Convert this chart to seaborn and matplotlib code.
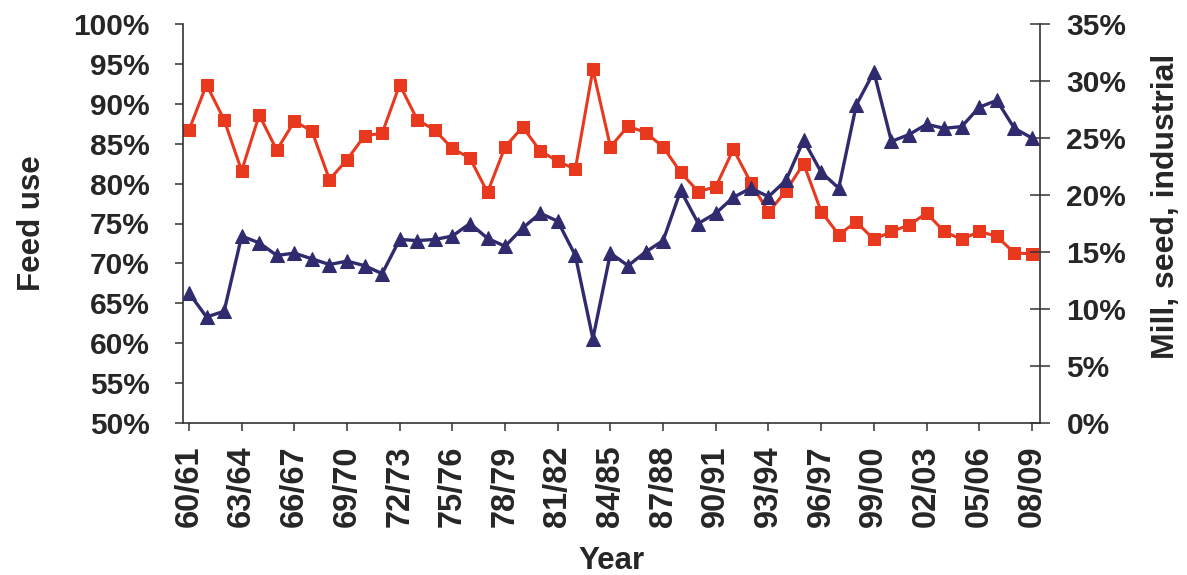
# Sorghum use shares: feed vs mill/seed/industrial
import numpy as np
import pandas as pd
import matplotlib
matplotlib.use("Agg")
import matplotlib.pyplot as plt
import seaborn as sns
from matplotlib.ticker import MultipleLocator, FuncFormatter

# ------------------------------------------
# DATA
# ------------------------------------------

seasons = [
    "60/61", "61/62", "62/63", "63/64", "64/65", "65/66", "66/67", "67/68",
    "68/69", "69/70", "70/71", "71/72", "72/73", "73/74", "74/75", "75/76",
    "76/77", "77/78", "78/79", "79/80", "80/81", "81/82", "82/83", "83/84",
    "84/85", "85/86", "86/87", "87/88", "88/89", "89/90", "90/91", "91/92",
    "92/93", "93/94", "94/95", "95/96", "96/97", "97/98", "98/99", "99/00",
    "00/01", "01/02", "02/03", "03/04", "04/05", "05/06", "06/07", "07/08",
    "08/09",
]

# left axis, %
feed_use = [
    86.7, 92.4, 88.0, 81.6, 88.6, 84.2, 87.8, 86.6, 80.5, 83.0,
    86.0, 86.3, 92.4, 88.0, 86.7, 84.4, 83.2, 78.9, 84.6, 87.1,
    84.1, 82.8, 81.8, 94.3, 84.6, 87.2, 86.4, 84.6, 81.4, 79.0,
    79.6, 84.3, 80.1, 76.4, 79.1, 82.5, 76.5, 73.6, 75.2, 73.0,
    74.0, 74.8, 76.3, 74.0, 73.0, 74.0, 73.4, 71.3, 71.2,
]

# right axis, %
mill_seed_ind = [
    11.4, 9.3, 9.8, 16.4, 15.8, 14.7, 14.9, 14.4, 13.9, 14.2,
    13.8, 13.1, 16.1, 16.0, 16.1, 16.4, 17.5, 16.2, 15.5, 17.1,
    18.4, 17.7, 14.7, 7.4, 14.9, 13.8, 15.0, 16.0, 20.4, 17.5,
    18.4, 19.8, 20.6, 19.85, 21.3, 24.8, 22.0, 20.6, 27.9, 30.8,
    24.7, 25.3, 26.2, 25.85, 26.0, 27.7, 28.3, 25.85, 25.0,
]

df = pd.DataFrame({
    "pos": np.arange(len(seasons)),
    "season": seasons,
    "feed": feed_use,
    "msi": mill_seed_ind,
})

# ------------------------------------------
# PLOT
# ------------------------------------------

sns.set_style("ticks")
plt.rcParams["font.family"] = ["Liberation Sans", "DejaVu Sans"]
plt.rcParams["font.weight"] = "bold"

red = "#E8391F"
navy = "#2F2B6E"
spine_col = "#333333"

W, H = 1187, 575
fig = plt.figure(figsize=(W / 100, H / 100), dpi=100)
ax = fig.add_axes([183 / W, 1 - 423 / H, (1040 - 183) / W, (423 - 24) / H])
ax2 = ax.twinx()

sns.lineplot(data=df, x="pos", y="feed", ax=ax, color=red, linewidth=2.2,
             marker="s", markersize=8.6, markeredgecolor=red)
sns.lineplot(data=df, x="pos", y="msi", ax=ax2, color=navy, linewidth=2.4,
             marker="^", markersize=10.5, markeredgecolor=navy)

ax.set_xlim(-0.34, len(seasons) - 1 + 0.46)
ax.set_ylim(50, 100)
ax2.set_ylim(0, 35)

ax.yaxis.set_major_locator(MultipleLocator(5))
ax2.yaxis.set_major_locator(MultipleLocator(5))
pct = FuncFormatter(lambda v, p: f"{v:.0f}%")
ax.yaxis.set_major_formatter(pct)
ax2.yaxis.set_major_formatter(pct)

tick_pos = df["pos"][::3]
ax.set_xticks(tick_pos)
ax.set_xticklabels(df["season"][::3], rotation=90)

# spines
for a in (ax, ax2):
    a.spines["top"].set_visible(False)
    for s in a.spines.values():
        s.set_color(spine_col)
        s.set_linewidth(1.2)
ax.spines["right"].set_visible(False)
ax2.spines["left"].set_visible(False)
ax2.spines["bottom"].set_visible(False)

ax.tick_params(axis="y", direction="out", length=6, width=1.1, color=spine_col,
               labelsize=21.5, pad=18)
ax.tick_params(axis="x", direction="out", length=6, width=1.1, color=spine_col,
               labelsize=23.5, pad=10)
ax2.tick_params(axis="y", direction="inout", length=14, width=1.1, color=spine_col,
                labelsize=21.5, pad=12)

ax.set_xlabel("Year", fontsize=22.5, fontweight="bold", labelpad=14)
ax.set_ylabel("Feed use", fontsize=22.5, fontweight="bold", labelpad=19)
ax2.set_ylabel("Mill, seed, industrial", fontsize=23, fontweight="bold",
               labelpad=18, rotation=90)
ax2.yaxis.label.set_y(0.544)

ax.grid(False)
ax2.grid(False)

fig.savefig("out.png", dpi=100)
